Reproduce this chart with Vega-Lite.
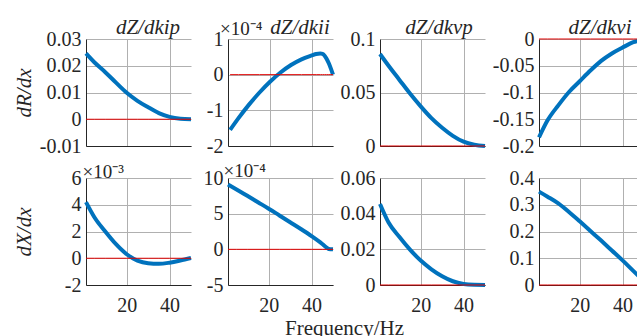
{
  "$schema": "https://vega.github.io/schema/vega-lite/v6.json",
  "background": "white",
  "padding": {"left": 13, "top": 16, "right": 0, "bottom": 0},
  "autosize": {"type": "pad"},
  "columns": 4,
  "align": "each",
  "spacing": {"row": 5, "column": -2},
  "title": {"text": "Frequency/Hz", "orient": "bottom", "anchor": "start", "dx": 272, "offset": 3, "font": "Times New Roman, Liberation Serif, serif", "fontSize": 21, "fontWeight": "normal", "color": "#262626"},
  "config": {
    "view": {"stroke": null},
    "line": {"interpolate": "monotone"},
    "text": {"font": "Times New Roman, Liberation Serif, serif", "color": "#262626"},
    "axis": {"labelFont": "Times New Roman, Liberation Serif, serif", "labelFontSize": 20, "labelColor": "#262626", "labelOverlap": false, "labelFlush": false, "domainColor": "#262626", "domainWidth": 1, "ticks": false, "tickSize": 0, "gridColor": "#b0b0b0", "gridWidth": 1, "labelPadding": 5, "titleFont": "Times New Roman, Liberation Serif, serif", "titleFontStyle": "italic", "titleFontSize": 21, "titleFontWeight": "normal", "titleColor": "#262626", "titlePadding": 5},
    "axisX": {"labelPadding": 10}
  },
  "datasets": {
    "kipR": [{"f":1,"v":0.0246,"z":0},{"f":5,"v":0.0212,"z":0},{"f":10,"v":0.0176,"z":0},{"f":15,"v":0.0137,"z":0},{"f":20,"v":0.0099,"z":0},{"f":25,"v":0.0069,"z":0},{"f":30,"v":0.0045,"z":0},{"f":35,"v":0.0023,"z":0},{"f":40,"v":0.0009,"z":0},{"f":45,"v":0.0002,"z":0},{"f":50,"v":0.0,"z":0}],
    "kiiR": [{"f":1,"v":-1.55,"z":0},{"f":5,"v":-1.22,"z":0},{"f":10,"v":-0.84,"z":0},{"f":15,"v":-0.5,"z":0},{"f":20,"v":-0.2,"z":0},{"f":25,"v":0.06,"z":0},{"f":30,"v":0.27,"z":0},{"f":35,"v":0.43,"z":0},{"f":40,"v":0.54,"z":0},{"f":42,"v":0.58,"z":0},{"f":44,"v":0.59,"z":0},{"f":45,"v":0.58,"z":0},{"f":46,"v":0.53,"z":0},{"f":47,"v":0.44,"z":0},{"f":48,"v":0.32,"z":0},{"f":49,"v":0.17,"z":0},{"f":50,"v":0.0,"z":0}],
    "kvpR": [{"f":1,"v":0.086,"z":0},{"f":5,"v":0.075,"z":0},{"f":10,"v":0.062,"z":0},{"f":15,"v":0.049,"z":0},{"f":20,"v":0.037,"z":0},{"f":25,"v":0.026,"z":0},{"f":30,"v":0.017,"z":0},{"f":35,"v":0.0095,"z":0},{"f":40,"v":0.004,"z":0},{"f":45,"v":0.0012,"z":0},{"f":50,"v":0.0,"z":0}],
    "kviR": [{"f":1,"v":-0.184,"z":0},{"f":5,"v":-0.152,"z":0},{"f":10,"v":-0.124,"z":0},{"f":15,"v":-0.099,"z":0},{"f":20,"v":-0.079,"z":0},{"f":25,"v":-0.059,"z":0},{"f":30,"v":-0.041,"z":0},{"f":35,"v":-0.027,"z":0},{"f":40,"v":-0.016,"z":0},{"f":45,"v":-0.006,"z":0},{"f":50,"v":-0.001,"z":0}],
    "kipX": [{"f":1,"v":4.2,"z":0},{"f":5,"v":3.05,"z":0},{"f":10,"v":2.0,"z":0},{"f":15,"v":1.05,"z":0},{"f":20,"v":0.3,"z":0},{"f":25,"v":-0.18,"z":0},{"f":30,"v":-0.38,"z":0},{"f":35,"v":-0.42,"z":0},{"f":40,"v":-0.33,"z":0},{"f":45,"v":-0.17,"z":0},{"f":50,"v":0.02,"z":0}],
    "kiiX": [{"f":1,"v":9.1,"z":0},{"f":5,"v":8.4,"z":0},{"f":10,"v":7.5,"z":0},{"f":15,"v":6.6,"z":0},{"f":20,"v":5.7,"z":0},{"f":25,"v":4.75,"z":0},{"f":30,"v":3.8,"z":0},{"f":35,"v":2.85,"z":0},{"f":40,"v":1.85,"z":0},{"f":45,"v":0.75,"z":0},{"f":47,"v":0.25,"z":0},{"f":48,"v":0.05,"z":0},{"f":50,"v":0.0,"z":0}],
    "kvpX": [{"f":1,"v":0.0454,"z":0},{"f":5,"v":0.035,"z":0},{"f":10,"v":0.027,"z":0},{"f":15,"v":0.0198,"z":0},{"f":20,"v":0.0137,"z":0},{"f":25,"v":0.0088,"z":0},{"f":30,"v":0.0049,"z":0},{"f":35,"v":0.0021,"z":0},{"f":40,"v":0.0006,"z":0},{"f":45,"v":0.0001,"z":0},{"f":50,"v":0.0,"z":0}],
    "kviX": [{"f":1,"v":0.349,"z":0},{"f":5,"v":0.330,"z":0},{"f":10,"v":0.305,"z":0},{"f":15,"v":0.273,"z":0},{"f":20,"v":0.238,"z":0},{"f":25,"v":0.202,"z":0},{"f":30,"v":0.166,"z":0},{"f":35,"v":0.129,"z":0},{"f":40,"v":0.092,"z":0},{"f":45,"v":0.053,"z":0},{"f":50,"v":0.014,"z":0}]
  },
  "concat": [
    {
      "width": 105, "height": 107,
      "data": {"name": "kipR"},
      "transform": [{"fold": ["v", "z"], "as": ["key", "val"]}],
      "mark": {"type": "line"},
      "encoding": {
        "x": {"field": "f", "type": "quantitative", "scale": {"domain": [1, 50]}, "axis": {"values": [20, 40], "labels": false, "title": "dZ/dkip", "titleX": 61.5, "titleY": -113, "titleAngle": 0, "titleAlign": "center", "titleBaseline": "alphabetic"}},
        "y": {"field": "val", "type": "quantitative", "scale": {"domain": [-0.01, 0.03]}, "axis": {"values": [-0.01, 0, 0.01, 0.02, 0.03], "labelOverlap": false, "labelExpr": "''+datum.value", "title": "dR/dx", "minExtent": 47, "maxExtent": 47}},
        "color": {"field": "key", "type": "nominal", "scale": {"domain": ["v", "z"], "range": ["#0072BD", "#e00000"]}, "legend": null},
        "strokeWidth": {"field": "key", "type": "nominal", "scale": {"domain": ["v", "z"], "range": [4, 1]}, "legend": null}
      }
    },
    {
      "width": 105, "height": 107,
      "resolve": {"axis": {"x": "independent", "y": "independent"}},
      "layer": [
        {
          "data": {"name": "kiiR"},
          "transform": [{"fold": ["v", "z"], "as": ["key", "val"]}],
          "mark": {"type": "line"},
          "encoding": {
            "x": {"field": "f", "type": "quantitative", "scale": {"domain": [1, 50]}, "axis": {"values": [20, 40], "labels": false, "title": "dZ/dkii", "titleX": 71.5, "titleY": -113, "titleAngle": 0, "titleAlign": "center", "titleBaseline": "alphabetic"}},
            "y": {"field": "val", "type": "quantitative", "scale": {"domain": [-2, 1]}, "axis": {"values": [-2, -1, 0, 1], "labelOverlap": false, "labelExpr": "''+datum.value", "title": null, "minExtent": 31, "maxExtent": 31}},
            "color": {"field": "key", "type": "nominal", "scale": {"domain": ["v", "z"], "range": ["#0072BD", "#e00000"]}, "legend": null},
            "strokeWidth": {"field": "key", "type": "nominal", "scale": {"domain": ["v", "z"], "range": [4, 1]}, "legend": null}
          }
        },
        {
          "data": {"values": [{}]},
          "mark": {"type": "text", "text": "×10⁻⁴", "align": "left", "baseline": "alphabetic", "dx": -10, "dy": -4, "fontSize": 19},
          "encoding": {"x": {"datum": 1, "type": "quantitative", "axis": null}, "y": {"datum": 1, "type": "quantitative", "axis": null}}
        }
      ]
    },
    {
      "width": 105, "height": 107,
      "data": {"name": "kvpR"},
      "transform": [{"fold": ["v", "z"], "as": ["key", "val"]}],
      "mark": {"type": "line"},
      "encoding": {
        "x": {"field": "f", "type": "quantitative", "scale": {"domain": [1, 50]}, "axis": {"values": [20, 40], "labels": false, "title": "dZ/dkvp", "titleX": 58.5, "titleY": -113, "titleAngle": 0, "titleAlign": "center", "titleBaseline": "alphabetic"}},
        "y": {"field": "val", "type": "quantitative", "scale": {"domain": [0, 0.1]}, "axis": {"values": [0, 0.05, 0.1], "labelOverlap": false, "labelExpr": "''+datum.value", "title": null, "minExtent": 41, "maxExtent": 41}},
        "color": {"field": "key", "type": "nominal", "scale": {"domain": ["v", "z"], "range": ["#0072BD", "#e00000"]}, "legend": null},
        "strokeWidth": {"field": "key", "type": "nominal", "scale": {"domain": ["v", "z"], "range": [4, 1]}, "legend": null}
      }
    },
    {
      "width": 105, "height": 107,
      "data": {"name": "kviR"},
      "transform": [{"fold": ["v", "z"], "as": ["key", "val"]}],
      "mark": {"type": "line"},
      "encoding": {
        "x": {"field": "f", "type": "quantitative", "scale": {"domain": [1, 50]}, "axis": {"values": [20, 40], "labels": false, "title": "dZ/dkvi", "titleX": 60.5, "titleY": -113, "titleAngle": 0, "titleAlign": "center", "titleBaseline": "alphabetic"}},
        "y": {"field": "val", "type": "quantitative", "scale": {"domain": [-0.2, 0]}, "axis": {"values": [-0.2, -0.15, -0.1, -0.05, 0], "labelOverlap": false, "labelExpr": "''+datum.value", "title": null, "minExtent": 48, "maxExtent": 48}},
        "color": {"field": "key", "type": "nominal", "scale": {"domain": ["v", "z"], "range": ["#0072BD", "#e00000"]}, "legend": null},
        "strokeWidth": {"field": "key", "type": "nominal", "scale": {"domain": ["v", "z"], "range": [4, 1]}, "legend": null}
      }
    },
    {
      "width": 105, "height": 107,
      "data": {"name": "kipX"},
      "transform": [{"fold": ["v", "z"], "as": ["key", "val"]}],
      "mark": {"type": "line"},
      "encoding": {
        "x": {"field": "f", "type": "quantitative", "scale": {"domain": [1, 50]}, "axis": {"values": [20, 40], "title": "×10⁻³", "titleFontStyle": "normal", "titleFontSize": 19, "titleX": -4, "titleY": -108, "titleAngle": 0, "titleAlign": "left", "titleBaseline": "alphabetic"}},
        "y": {"field": "val", "type": "quantitative", "scale": {"domain": [-2, 6]}, "axis": {"values": [-2, 0, 2, 4, 6], "labelOverlap": false, "labelExpr": "''+datum.value", "title": "dX/dx", "minExtent": 47, "maxExtent": 47}},
        "color": {"field": "key", "type": "nominal", "scale": {"domain": ["v", "z"], "range": ["#0072BD", "#e00000"]}, "legend": null},
        "strokeWidth": {"field": "key", "type": "nominal", "scale": {"domain": ["v", "z"], "range": [4, 1]}, "legend": null}
      }
    },
    {
      "width": 105, "height": 107,
      "data": {"name": "kiiX"},
      "transform": [{"fold": ["v", "z"], "as": ["key", "val"]}],
      "mark": {"type": "line"},
      "encoding": {
        "x": {"field": "f", "type": "quantitative", "scale": {"domain": [1, 50]}, "axis": {"values": [20, 40], "title": "×10⁻⁴", "titleFontStyle": "normal", "titleFontSize": 19, "titleX": -5, "titleY": -109, "titleAngle": 0, "titleAlign": "left", "titleBaseline": "alphabetic"}},
        "y": {"field": "val", "type": "quantitative", "scale": {"domain": [-5, 10]}, "axis": {"values": [-5, 0, 5, 10], "labelOverlap": false, "labelExpr": "''+datum.value", "title": null, "minExtent": 31, "maxExtent": 31}},
        "color": {"field": "key", "type": "nominal", "scale": {"domain": ["v", "z"], "range": ["#0072BD", "#e00000"]}, "legend": null},
        "strokeWidth": {"field": "key", "type": "nominal", "scale": {"domain": ["v", "z"], "range": [4, 1]}, "legend": null}
      }
    },
    {
      "width": 105, "height": 107,
      "data": {"name": "kvpX"},
      "transform": [{"fold": ["v", "z"], "as": ["key", "val"]}],
      "mark": {"type": "line"},
      "encoding": {
        "x": {"field": "f", "type": "quantitative", "scale": {"domain": [1, 50]}, "axis": {"values": [20, 40], "title": null}},
        "y": {"field": "val", "type": "quantitative", "scale": {"domain": [0, 0.06]}, "axis": {"values": [0, 0.02, 0.04, 0.06], "labelOverlap": false, "labelExpr": "''+datum.value", "title": null, "minExtent": 41, "maxExtent": 41}},
        "color": {"field": "key", "type": "nominal", "scale": {"domain": ["v", "z"], "range": ["#0072BD", "#e00000"]}, "legend": null},
        "strokeWidth": {"field": "key", "type": "nominal", "scale": {"domain": ["v", "z"], "range": [4, 1]}, "legend": null}
      }
    },
    {
      "width": 105, "height": 107,
      "data": {"name": "kviX"},
      "transform": [{"fold": ["v", "z"], "as": ["key", "val"]}],
      "mark": {"type": "line"},
      "encoding": {
        "x": {"field": "f", "type": "quantitative", "scale": {"domain": [1, 50]}, "axis": {"values": [20, 40], "title": null}},
        "y": {"field": "val", "type": "quantitative", "scale": {"domain": [0, 0.4]}, "axis": {"values": [0, 0.1, 0.2, 0.3, 0.4], "labelOverlap": false, "labelExpr": "''+datum.value", "title": null, "minExtent": 48, "maxExtent": 48}},
        "color": {"field": "key", "type": "nominal", "scale": {"domain": ["v", "z"], "range": ["#0072BD", "#e00000"]}, "legend": null},
        "strokeWidth": {"field": "key", "type": "nominal", "scale": {"domain": ["v", "z"], "range": [4, 1]}, "legend": null}
      }
    }
  ]
}
